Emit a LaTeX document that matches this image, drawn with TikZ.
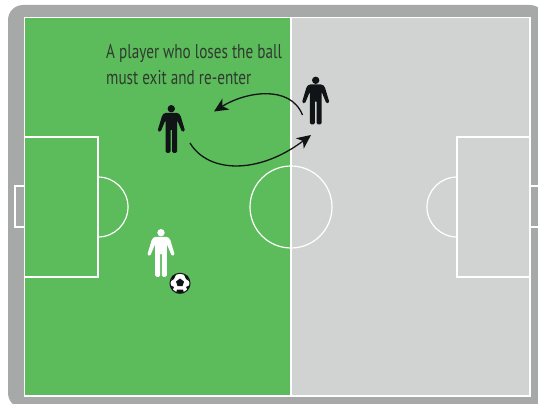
\documentclass[tikz,border=0pt]{standalone}
\usepackage{fontspec}
\setmainfont[FakeStretch=0.76]{PT Sans}
\usetikzlibrary{positioning,calc,arrows.meta}
\definecolor{surround}{HTML}{A7A9A8}
\definecolor{pitchgreen}{HTML}{5CBB5A}
\definecolor{pitchgrey}{HTML}{D1D3D2}
\definecolor{ink}{HTML}{111416}
\definecolor{captionink}{HTML}{2F3A30}
\tikzset{
  line/.style={draw=white,line width=1.2pt},
  pass/.style={-{Stealth[length=14pt,width=13pt,inset=4pt]},draw=ink,line width=1.3pt},
  caption/.style={font=\fontsize{20}{25.5}\selectfont,text=captionink,align=left,anchor=north west,inner sep=0},
  ballnode/.style={circle,draw=ink,line width=1pt,fill=white,minimum size=20pt,inner sep=0},
  pics/player/.style={code={
    \fill[#1] (0,-21.3) circle (3.7);
    \fill[#1,rounded corners=1.4pt] (-6.5,-17.2) -- (6.5,-17.2) -- (9,-15) -- (13.8,1) -- (10.8,2) -- (5.8,-10)
      -- (5.8,22.8) -- (0.8,22.8) -- (0.8,-1) -- (-0.8,-1) -- (-0.8,22.8) -- (-5.8,22.8) -- (-5.8,-10)
      -- (-10.8,2) -- (-13.8,1) -- (-9,-15) -- cycle;
  }},
}
\begin{document}
\begin{tikzpicture}[x=1pt,y=-1pt]
  \useasboundingbox (0,0) rectangle (538,404);
  % the surround and the two halves of the pitch
  \fill[surround,rounded corners=15pt] (8,5) rectangle (545,408);
  \fill[pitchgreen] (24.5,17.5) rectangle (291,396);
  \fill[pitchgrey] (291,17.5) rectangle (530,396);
  % markings
  \draw[line] (24.5,17.5) rectangle (530,396);
  \draw[line] (291,17.5) -- (291,396);
  \draw[line] (291,207) circle (41);
  \draw[line] (24.5,137) rectangle (98,277);
  \draw[line] (457,137) rectangle (530,277);
  \draw[line] (98,177) arc[start angle=-90,end angle=90,radius=30];
  \draw[line] (457,177) arc[start angle=270,end angle=90,radius=30];
  \draw[line] (24.5,186) -- (15,186) -- (15,227) -- (24.5,227);
  \draw[line] (530,186) -- (538,186);
  \draw[line] (530,227) -- (538,227);
  % players
  \pic at (171.3,130) {player=ink};
  \pic at (315.7,101.6) {player=ink};
  \pic at (161,254) {player=white};
  % ball
  \node[ballnode] (ball) at (180,283.3) {};
  \fill[ink] (180,278.5) -- (184,281.5) -- (182.5,286) -- (177.5,286) -- (176,281.5) -- cycle;
  \fill[ink] (172,276) -- (176,274.5) -- (174,279) -- (171,281) -- cycle;
  \fill[ink] (188,276) -- (184,274.5) -- (186,279) -- (189,281) -- cycle;
  \fill[ink] (176,293) -- (184,293) -- (183,289.5) -- (177,289.5) -- cycle;
  \fill[ink] (170,285) -- (172.5,290) -- (174,287) -- cycle;
  \fill[ink] (190,285) -- (187.5,290) -- (186,287) -- cycle;
  % caption
  \node[caption] (note) at (106,44.5) {A player who loses the ball\\must exit and re-enter};
  % movement of the two players
  \coordinate (outstart) at (190,143);
  \coordinate (outend) at (311,135);
  \coordinate (backstart) at (302.5,115);
  \coordinate (backend) at (214,111.5);
  \draw[pass] (outstart) .. controls (208,173) and (258,175) .. (outend);
  \draw[pass] (backstart) .. controls (290,84) and (245,92) .. (backend);
\end{tikzpicture}
\end{document}
